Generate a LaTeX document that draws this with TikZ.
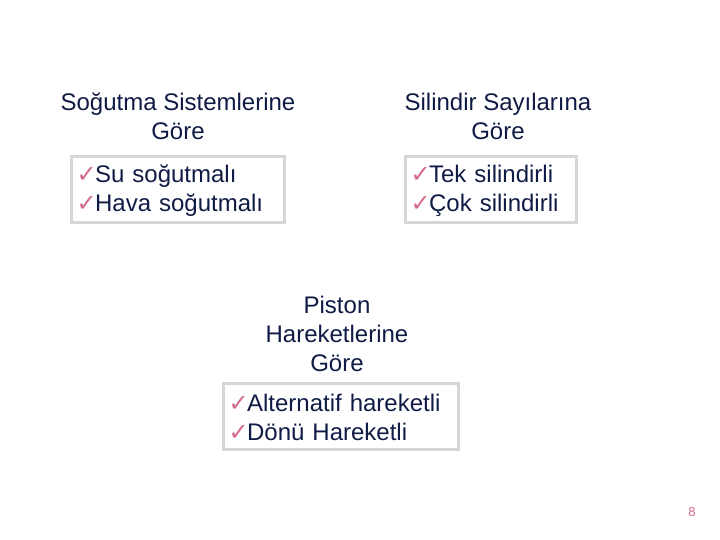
\documentclass[tikz,border=0pt]{standalone}
\usepackage{fontspec}
\setmainfont{Liberation Sans}
\newfontfamily\dejavu{DejaVu Sans}
\definecolor{navy}{HTML}{0F1B45}
\definecolor{chkpink}{HTML}{D4688F}
\definecolor{boxgray}{HTML}{D6D6D6}
\newcommand{\chk}{{\dejavu\fontsize{24}{24}\selectfont\color{chkpink}✓}\kern-1.5pt}
\begin{document}
\begin{tikzpicture}[x=1pt,y=-1pt,
  every node/.style={font=\fontsize{24}{29}\selectfont, text=navy},
  header/.style={align=center, inner sep=0pt},
  listbox/.style={draw=boxgray, line width=3pt, align=left, inner xsep=4pt, anchor=north west, text height=20pt, inner ysep=0pt}]
\useasboundingbox (0,0) rectangle (720,540);
\node[header] (h1) at (178,116) {Soğutma Sistemlerine\\Göre};
\node[header] (h2) at (498,116) {Silindir Sayılarına\\Göre};
\node[header] (h3) at (337,334) {Piston\\Hareketlerine\\Göre};
\node[listbox, minimum width=213pt, minimum height=66pt, text width=203pt] (b1) at (70,155) {\chk Su soğutmalı\\\chk Hava soğutmalı};
\node[listbox, minimum width=171pt, minimum height=66pt, text width=161pt] (b2) at (404,155) {\chk Tek silindirli\\\chk Çok silindirli};
\node[listbox, minimum width=235pt, minimum height=66pt, text width=225pt] (b3) at (222,382) {\chk Alternatif hareketli\\\chk Dönü Hareketli};
\node[font=\fontsize{13}{13}\selectfont, text=chkpink] (pg) at (692,512) {8};
\end{tikzpicture}
\end{document}
